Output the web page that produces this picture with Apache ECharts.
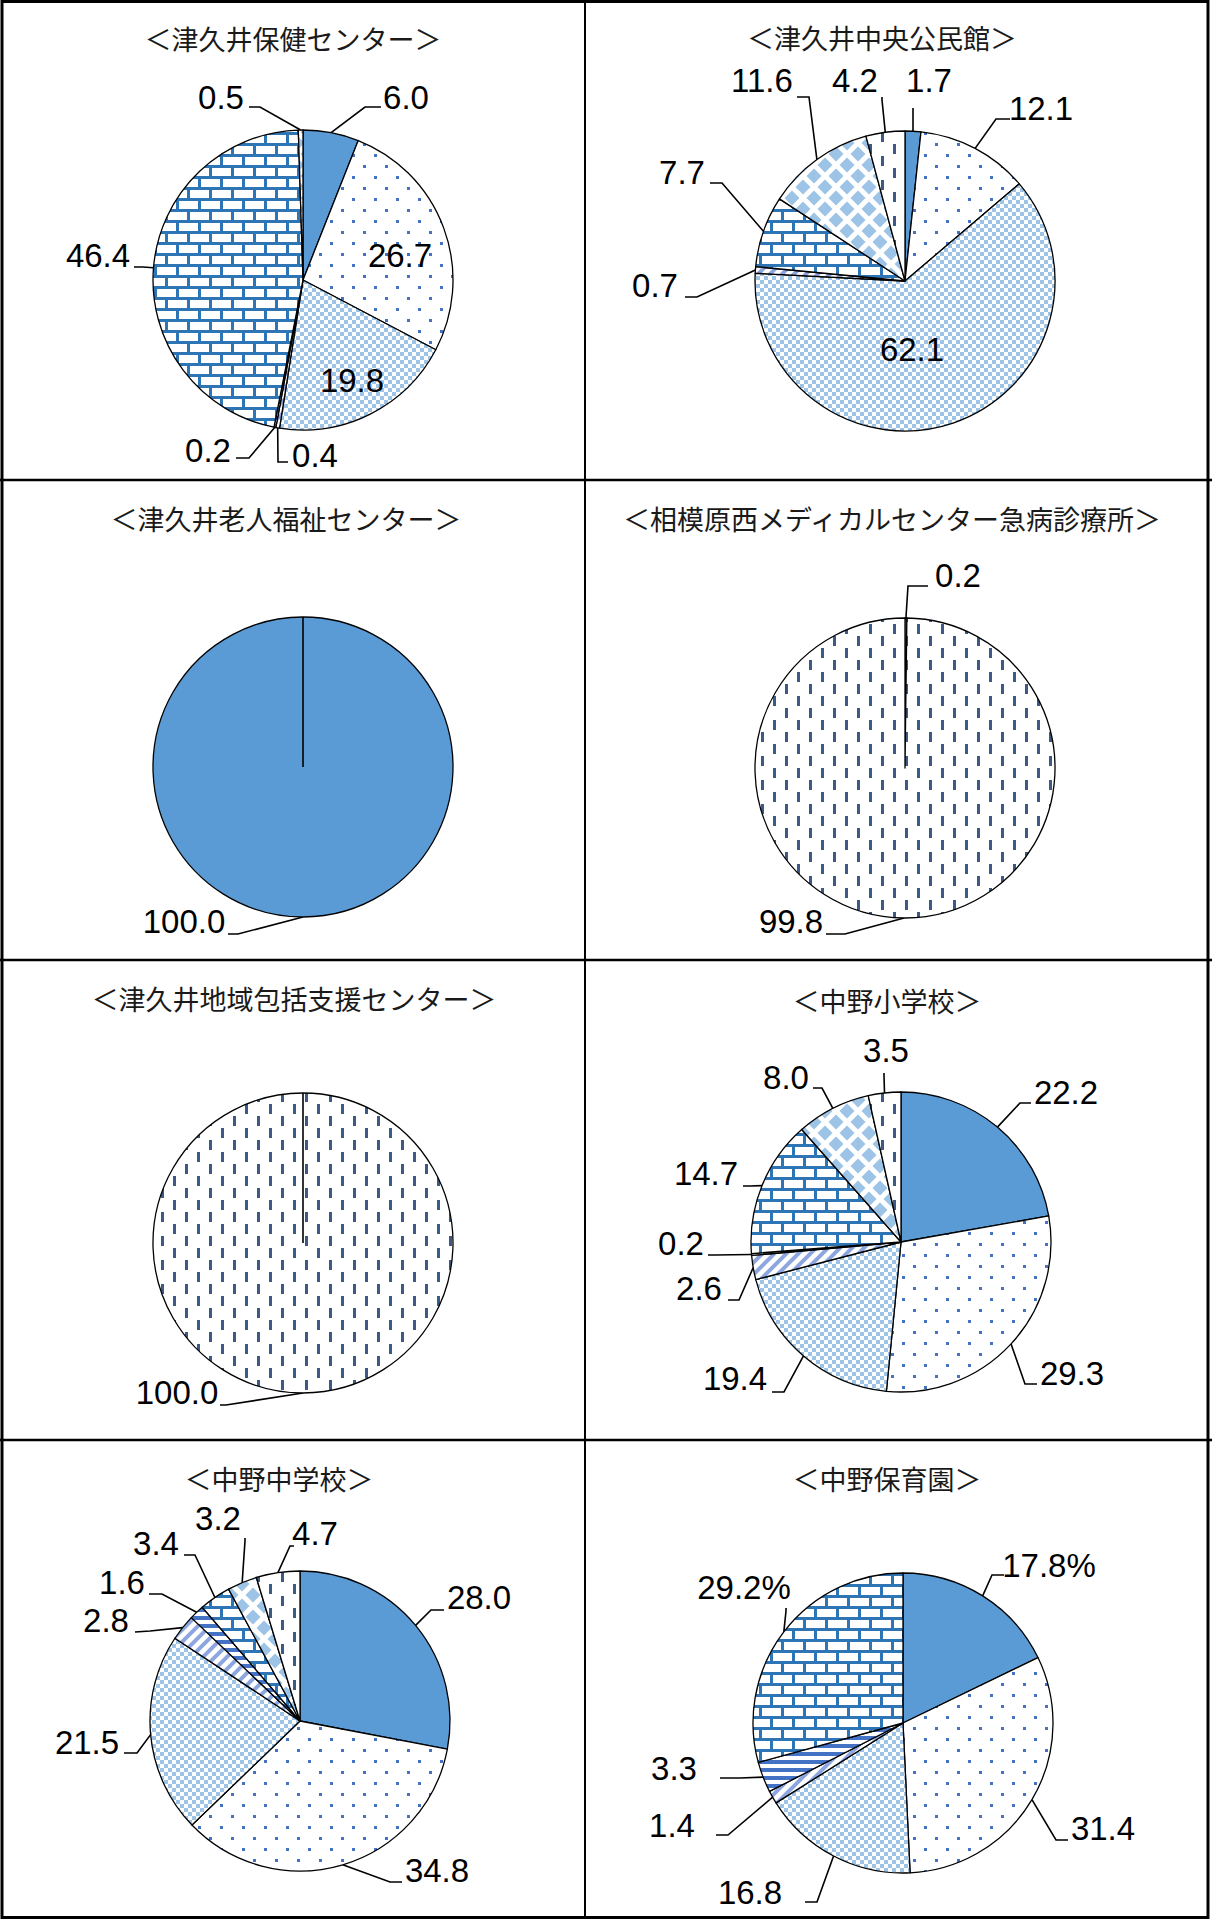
<!DOCTYPE html>
<html><head><meta charset="utf-8">
<script src="https://cdn.jsdelivr.net/npm/echarts@6/dist/echarts.min.js"></script>
<style>html,body{margin:0;padding:0;background:#fff}#main{width:1212px;height:1919px}</style>
</head><body><div id="main"></div>
<script>
// ---------------- DATA ----------------
const categories = ['区分1', '区分2', '区分3', '区分4', '区分5', '区分6', '区分7', '区分8'];
const facilities = ['津久井保健センター', '津久井中央公民館', '津久井老人福祉センター', '相模原西メディカルセンター急病診療所',
  '津久井地域包括支援センター', '中野小学校', '中野中学校', '中野保育園'];
// values by category (null = not present)
const valuesHoken     = [6.0, 26.7, 19.8, 0.4, 0.2, 46.4, 0.5, null];
const valuesKominkan  = [1.7, 12.1, 62.1, 0.7, null, 7.7, 11.6, 4.2];
const valuesRojin     = [100.0, null, null, null, null, null, null, null];
const valuesMedical   = [null, null, null, null, null, null, 0.2, 99.8];
const valuesHoukatsu  = [null, null, null, null, null, null, null, 100.0];
const valuesShogakko  = [22.2, 29.3, 19.4, 2.6, 0.2, 14.7, 8.0, 3.5];
const valuesChugakko  = [28.0, 34.8, 21.5, 2.8, 1.6, 3.4, 3.2, 4.7];
const valuesHoikuen   = [17.8, 31.4, 16.8, 1.4, 3.3, 29.2, null, null];
const allValues = [valuesHoken, valuesKominkan, valuesRojin, valuesMedical, valuesHoukatsu, valuesShogakko, valuesChugakko, valuesHoikuen];

// ---------------- STYLE / LAYOUT ----------------
function tile(w, h, draw) {
  const c = document.createElement('canvas'); c.width = w; c.height = h;
  const g = c.getContext('2d'); g.fillStyle = '#fff'; g.fillRect(0, 0, w, h); draw(g, w, h);
  return { image: c, repeat: 'repeat', imageWidth: w, imageHeight: h };
}
const patterns = [
  '#5B9BD5',
  tile(22, 22, (g) => { g.fillStyle = '#4472C4'; g.fillRect(0, 0, 3, 3); g.fillRect(11, 11, 3, 3); }),
  tile(8, 8, (g) => { g.fillStyle = '#9DC3E6'; g.fillRect(0, 0, 4, 4); g.fillRect(4, 4, 4, 4); }),
  tile(12, 12, (g, w, h) => { g.strokeStyle = '#8EA6E0'; g.lineWidth = 4;
    g.beginPath(); g.moveTo(-2, h + 2); g.lineTo(w + 2, -2); g.moveTo(-2, 2); g.lineTo(2, -2); g.moveTo(w - 2, h + 2); g.lineTo(w + 2, h - 2); g.stroke(); }),
  tile(8, 8, (g) => { g.fillStyle = '#4472C4'; g.fillRect(0, 0, 8, 4); }),
  tile(22, 22, (g) => { g.fillStyle = '#2E75B6'; g.fillRect(0, 0, 22, 3); g.fillRect(0, 11, 22, 3); g.fillRect(0, 3, 3, 8); g.fillRect(11, 14, 3, 8); }),
  tile(22, 22, (g) => { g.fillStyle = '#9DC3E6';
    const d = (x, y, r) => { g.beginPath(); g.moveTo(x, y - r); g.lineTo(x + r, y); g.lineTo(x, y + r); g.lineTo(x - r, y); g.closePath(); g.fill(); };
    d(11, 11, 7.5); d(0, 0, 7.5); d(22, 0, 7.5); d(0, 22, 7.5); d(22, 22, 7.5); }),
  tile(24, 24, (g) => { g.fillStyle = '#3B5A85'; g.fillRect(5, 0, 3, 10); g.fillRect(17, 12, 3, 10); })
];

const charts = [
  { center: [303, 280], title: [293, 38], labels: {
    0: { t: [406, 97], e: [365, 107], n: [381, 107] }, 1: { t: [400, 255] }, 2: { t: [352, 380] },
    3: { t: [315, 455], e: [278, 462], n: [288, 462] }, 4: { t: [208, 450], e: [249, 458], n: [236, 458] },
    5: { t: [98, 255], e: [143, 267], n: [134, 267] }, 6: { t: [221, 97], e: [260, 107], n: [249, 107] } } },
  { center: [905, 281], title: [882, 37], labels: {
    0: { t: [929, 80], e: [913, 112], n: [913, 108] }, 1: { t: [1041, 108], e: [996, 119], n: [1010, 119] },
    2: { t: [912, 349] }, 3: { t: [655, 285], e: [697, 297], n: [685, 297] },
    5: { t: [682, 172], e: [722, 183], n: [710, 183] }, 6: { t: [762, 80], e: [809, 97], n: [797, 97] },
    7: { t: [855, 80], e: [882, 100], n: [882, 97] } } },
  { center: [303, 767], title: [286, 518], labels: { 0: { t: [184, 921], e: [238, 934], n: [228, 934] } } },
  { center: [905, 768], title: [892, 518], labels: {
    6: { t: [958, 575], e: [908, 586], n: [928, 586] }, 7: { t: [791, 921], e: [845, 934], n: [826, 934] } } },
  { center: [303, 1243], title: [294, 998], labels: { 7: { t: [177, 1392], e: [226, 1405], n: [220, 1405] } } },
  { center: [901, 1242], title: [887, 1000], labels: {
    0: { t: [1066, 1092], e: [1020, 1103], n: [1031, 1103] }, 1: { t: [1072, 1373], e: [1025, 1384], n: [1037, 1384] },
    2: { t: [735, 1378], e: [784, 1392], n: [772, 1392] }, 3: { t: [699, 1288], e: [739, 1300], n: [728, 1300] },
    4: { t: [681, 1243], e: [715, 1255], n: [708, 1255] }, 5: { t: [706, 1173], e: [750, 1186], n: [743, 1186] },
    6: { t: [786, 1077], e: [822, 1088], n: [813, 1088] }, 7: { t: [886, 1050], e: [884, 1076], n: [884, 1073] } } },
  { center: [300, 1721], title: [279, 1478], labels: {
    0: { t: [479, 1597], e: [431, 1610], n: [444, 1610] }, 1: { t: [437, 1870], e: [390, 1882], n: [402, 1882] },
    2: { t: [87, 1742], e: [137, 1753], n: [124, 1753] }, 3: { t: [106, 1620], e: [150, 1631], n: [135, 1632] },
    4: { t: [122, 1582], e: [162, 1594], n: [149, 1594] }, 5: { t: [156, 1543], e: [195, 1555], n: [184, 1555] },
    6: { t: [218, 1518], e: [245, 1541], n: [245, 1538] }, 7: { t: [315, 1533], e: [290, 1546], n: [294, 1546] } } },
  { center: [903, 1723], title: [887, 1478], pctSuffix: [0, 5], labels: {
    0: { t: [1049, 1565], e: [992, 1575], n: [1004, 1575] }, 1: { t: [1103, 1828], e: [1056, 1840], n: [1068, 1840] },
    2: { t: [750, 1892], e: [817, 1902], n: [805, 1902] }, 3: { t: [672, 1825], e: [728, 1835], n: [716, 1835] },
    4: { t: [674, 1768], e: [740, 1778], n: [720, 1778] }, 5: { t: [744, 1587], e: [786, 1611], n: [786, 1608] } } }
];
const RADIUS = 150;
const labelFont = { fontFamily: 'Liberation Sans, Arial, sans-serif', fontSize: 33, color: '#000' };

// ---------------- BUILD ----------------
const series = [], titles = [], graphics = [];
charts.forEach((ch, si) => {
  const vals = allValues[si];
  const catIdx = [];
  const data = [];
  vals.forEach((v, ci) => {
    if (v == null) return;
    catIdx.push(ci);
    const lab = ch.labels[ci] || {};
    const inside = !lab.e;
    const suffix = (ch.pctSuffix && ch.pctSuffix.indexOf(ci) >= 0) ? '%' : '';
    data.push({
      name: categories[ci], value: v,
      itemStyle: { color: patterns[ci] },
      label: { position: inside ? 'inside' : 'outside', formatter: v.toFixed(1) + suffix },
      labelLine: { show: !inside }
    });
  });
  series.push({
    type: 'pie', center: ch.center, radius: RADIUS, startAngle: 90, clockwise: true,
    avoidLabelOverlap: false, silent: true, animation: false,
    itemStyle: { borderColor: '#000', borderWidth: 1.3 },
    label: Object.assign({ show: true }, labelFont),
    labelLine: { show: true, length: 10, length2: 10, lineStyle: { color: '#000', width: 1.6 } },
    emphasis: { disabled: true },
    data: data,
    labelLayout: function (p) {
      const lab = ch.labels[catIdx[p.dataIndex]];
      if (!lab) return {};
      const out = { x: lab.t[0], y: lab.t[1], align: 'center', verticalAlign: 'middle' };
      if (lab.e && p.labelLinePoints) out.labelLinePoints = [p.labelLinePoints[0], lab.e, lab.n];
      return out;
    }
  });
  titles.push({
    text: '＜' + facilities[si] + '＞', left: ch.title[0], top: ch.title[1] - 15, textAlign: 'center', padding: 0,
    textStyle: { fontFamily: 'Noto Sans CJK JP', fontSize: 27, fontWeight: 'normal', color: '#1a1a1a', lineHeight: 30 }
  });
  // seam line of a single full slice (from centre to 12 o'clock)
  if (data.length === 1) {
    graphics.push({ type: 'line', z: 10, silent: true,
      shape: { x1: ch.center[0], y1: ch.center[1], x2: ch.center[0], y2: ch.center[1] - RADIUS },
      style: { stroke: '#000', lineWidth: 1.6 } });
  }
});
// frame
graphics.push({ type: 'rect', silent: true, shape: { x: 2, y: 1.5, width: 1206, height: 1916 }, style: { fill: 'none', stroke: '#000', lineWidth: 3 } });
graphics.push({ type: 'line', silent: true, shape: { x1: 585, y1: 0, x2: 585, y2: 1919 }, style: { stroke: '#000', lineWidth: 2 } });
[480, 960, 1440].forEach(y => graphics.push({ type: 'line', silent: true, shape: { x1: 0, y1: y, x2: 1212, y2: y }, style: { stroke: '#000', lineWidth: 2.5 } }));

const chart = echarts.init(document.getElementById('main'), null, { renderer: 'svg' });
chart.setOption({ animation: false, backgroundColor: '#fff', title: titles, series: series, graphic: graphics });
</script></body></html>
